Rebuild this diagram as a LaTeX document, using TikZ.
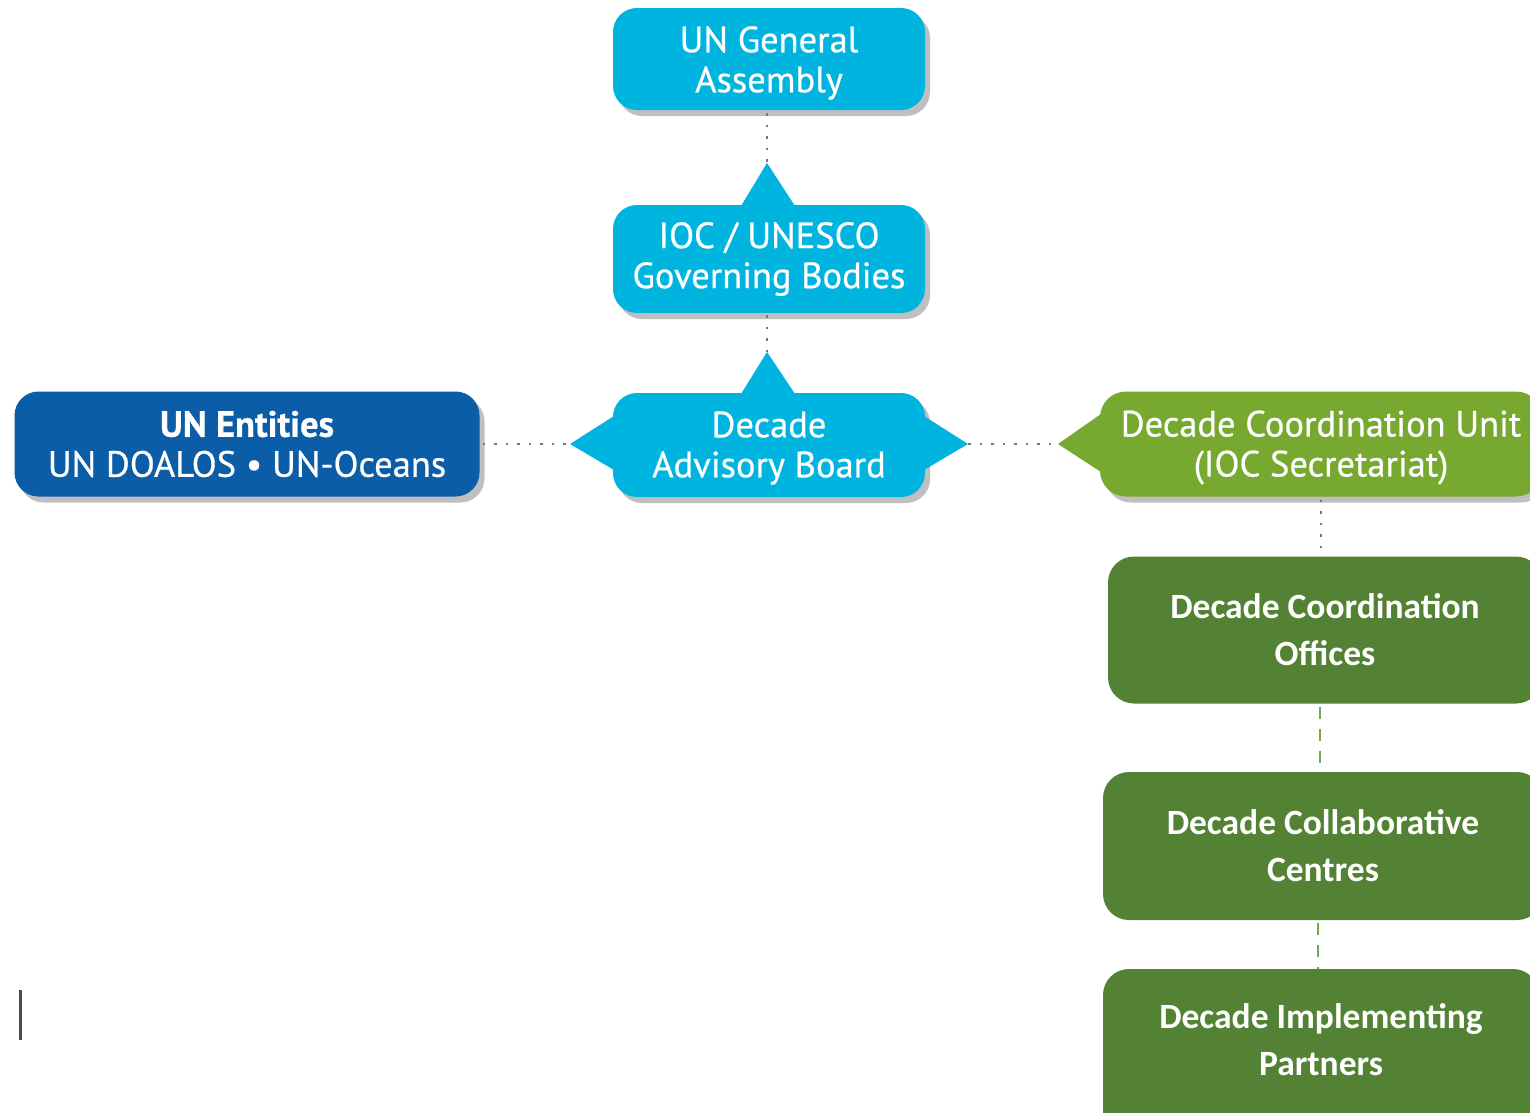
\documentclass[tikz,border=0pt]{standalone}
\usepackage{fontspec}
\setmainfont[FakeBold=0.6]{PT Sans}
\newfontfamily\calfont{Carlito}
\usetikzlibrary{shadows,calc}
\definecolor{uncyan}{RGB}{0,180,224}
\definecolor{unblue}{RGB}{11,93,168}
\definecolor{ltgreen}{RGB}{119,168,48}
\definecolor{dkgreen}{RGB}{84,130,53}
\definecolor{dashgreen}{RGB}{112,173,71}
\definecolor{dotgrey}{RGB}{120,120,120}
\begin{document}
\begin{tikzpicture}[x=1pt,y=-1pt,
  boxshadow/.style={drop shadow={shadow xshift=5pt,shadow yshift=-6pt,fill=black!45,opacity=0.55}},
  topbox/.style={fill=uncyan,text=white,rounded corners=24pt,align=center,
     font=\fontsize{36.5}{40}\selectfont,inner sep=0pt,boxshadow},
  greenbox/.style={fill=dkgreen,text=white,rounded corners=26pt,align=center,
     font=\calfont\bfseries\fontsize{35.5}{47}\selectfont,inner sep=0pt},
  dotline/.style={draw=dotgrey,line width=2.5pt,dash pattern=on 2.5pt off 9pt},
  dashline/.style={draw=dashgreen,line width=2.5pt,dash pattern=on 12pt off 10pt},
  tri/.style={fill=uncyan}
]
\useasboundingbox (0,0) rectangle (1530,1112);
\fill[white] (0,0) rectangle (1530,1112);

% top boxes
\node[topbox,minimum width=312pt,minimum height=102pt] (ga) at (769,59) {\rule{0pt}{34pt}UN General\\Assembly};
\node[topbox,minimum width=312pt,minimum height=108pt] (ioc) at (769,259) {IOC / UNESCO\\Governing Bodies};
\node[topbox,minimum width=312pt,minimum height=104pt] (dab) at (769,445) {\rule{0pt}{32pt}Decade\\Advisory Board};
\node[topbox,fill=unblue,minimum width=465pt,minimum height=105pt] (une) at (247,444)
  {\textbf{UN Entities}\\UN DOALOS \textbullet{} UN-Oceans};
\node[topbox,fill=ltgreen,minimum width=442pt,minimum height=105pt,rounded corners=26pt] (dcu) at (1321,444)
  {\rule{0pt}{33pt}Decade Coordination Unit\\(IOC Secretariat)};

% pointers
\coordinate (iocT) at (767,163);
\fill[tri] (741,206) -- (iocT) -- (795,206) -- cycle;
\coordinate (dabT) at (767,352);
\fill[tri] (741,394) -- (dabT) -- (795,394) -- cycle;
\coordinate (dabL) at (570,444);
\fill[tri] (614,416) -- (dabL) -- (614,470) -- cycle;
\coordinate (dabR) at (968,444);
\fill[tri] (924,416) -- (dabR) -- (924,470) -- cycle;
\coordinate (dcuL) at (1058,444);
\fill[ltgreen] (1101,414) -- (dcuL) -- (1101,472) -- cycle;

% green boxes
\node[greenbox,minimum width=434pt,minimum height=147pt] (dco) at (1325,630) {Decade Coordination\\Offices};
\node[greenbox,minimum width=440pt,minimum height=148pt] (dcc) at (1323,846) {Decade Collaborative\\Centres};
\node[greenbox,minimum width=436pt,minimum height=190pt] (dip) at (1321,1064) {Decade Implementing\\Partners\rule[-50pt]{0pt}{50pt}};

% connectors
\draw[dotline] ($(ga.south)+(-2,3)$) -- (iocT);
\draw[dotline] ($(ioc.south)+(-2,2)$) -- (dabT);
\draw[dotline] ($(une.east)+(3,0)$) -- (dabL);
\draw[dotline] (dabR) -- (dcuL);
\draw[dotline] ($(dcu.south)+(0,3)$) -- (dco.north -| dcu.south);
\draw[dashline] ($(dco.south)+(-5,3)$) -- ($(dcc.north)+(-3,0)$);
\draw[dashline] ($(dcc.south)+(-5,3)$) -- ($(dip.north)+(-3,0)$);

% text cursor
\draw[draw=black!70,line width=3pt] (20,990) -- (20,1040);
\end{tikzpicture}
\end{document}
